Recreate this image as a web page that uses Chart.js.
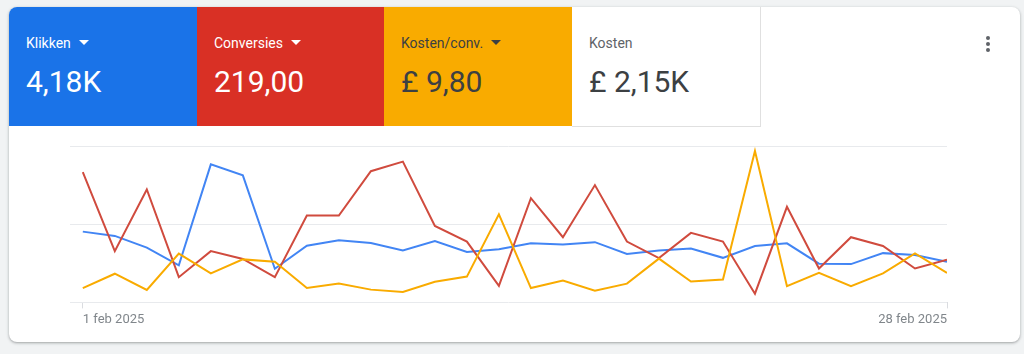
<!DOCTYPE html>
<html>
<head>
<meta charset="utf-8">
<script src="https://cdn.jsdelivr.net/npm/chart.js@4"></script>
<style>
    html, body { margin: 0; padding: 0; }
    body { width: 1024px; height: 354px; background: #f1f3f4; font-family: Roboto, sans-serif; position: relative; overflow: hidden; }
    .card { position: absolute; left: 9px; top: 7px; width: 1011px; height: 335px; background: #fff; border-radius: 8px; box-shadow: 0 1px 2px rgba(60,64,67,0.3), 0 1px 3px 1px rgba(60,64,67,0.12); overflow: hidden; }
    .tile { position: absolute; top: 0; height: 119px; width: 188px; }
    .tile .lbl { position: absolute; left: 17px; top: 28px; font-size: 14px; line-height: 16px; white-space: nowrap; }
    .tile .val { position: absolute; left: 17px; top: 57px; font-size: 30px; line-height: 36px; white-space: nowrap; }
    .arrow { display: inline-block; width: 0; height: 0; border-left: 5px solid transparent; border-right: 5px solid transparent; border-top: 5px solid currentColor; margin-left: 8px; vertical-align: 3px; }
    .kebab { position: absolute; left: 977px; top: 29px; width: 4px; }
    .kebab span { display: block; width: 4px; height: 4px; border-radius: 2px; background: #5f6368; margin-bottom: 2px; }
    #wrap { position: absolute; left: 61px; top: 135px; width: 881px; height: 190px; }
</style>
</head>
<body>
<div class="card">
    <div class="tile" style="left:0;background:#1a73e8;color:#fff;"><div class="lbl">Klikken<span class="arrow"></span></div><div class="val">4,18K</div></div>
    <div class="tile" style="left:188px;background:#d93025;color:#fff;"><div class="lbl">Conversies<span class="arrow"></span></div><div class="val">219,00</div></div>
    <div class="tile" style="left:375px;background:#f9ab00;color:#3c4043;"><div class="lbl">Kosten/conv.<span class="arrow"></span></div><div class="val">£ 9,80</div></div>
    <div class="tile" style="left:563px;background:#fff;color:#3c4043;border-right:1px solid #e0e0e0;border-bottom:1px solid #e0e0e0;"><div class="lbl" style="color:#5f6368;">Kosten</div><div class="val">£ 2,15K</div></div>
    <div class="kebab"><span></span><span></span><span></span></div>
    <div id="wrap"><canvas id="grafico"></canvas></div>
</div>
<script>
const dagen = ['1 feb 2025','2 feb 2025','3 feb 2025','4 feb 2025','5 feb 2025','6 feb 2025','7 feb 2025',
    '8 feb 2025','9 feb 2025','10 feb 2025','11 feb 2025','12 feb 2025','13 feb 2025','14 feb 2025',
    '15 feb 2025','16 feb 2025','17 feb 2025','18 feb 2025','19 feb 2025','20 feb 2025','21 feb 2025',
    '22 feb 2025','23 feb 2025','24 feb 2025','25 feb 2025','26 feb 2025','27 feb 2025','28 feb 2025'];

const klikken = [181, 170, 140, 95, 353, 325, 86, 145, 159, 152, 133, 157, 129, 136,
    151, 148, 154, 124, 133, 138, 114, 144, 151, 99, 98, 126, 121, 104];

const conversies = [15.0, 5.9, 13.0, 2.9, 5.9, 5.0, 2.9, 10.0, 10.0, 15.1, 16.2, 8.8, 7.0, 1.9,
    12.0, 7.5, 13.5, 7.0, 5.1, 8.0, 7.0, 1.0, 11.0, 3.9, 7.5, 6.5, 3.9, 4.9];

const kostenPerConv = [5.5, 11.0, 4.8, 18.7, 11.1, 16.5, 15.6, 5.5, 7.2, 4.9, 4.0, 7.9, 9.9, 33.8,
    5.5, 8.4, 4.5, 7.2, 16.8, 8.0, 8.8, 58.1, 6.2, 11.3, 6.2, 11.1, 18.8, 11.3];

const asMax = { klikken: 400, conversies: 18, kosten: 60 };

function punten(reeks) {
    return reeks.map((v, i) => ({ x: i, y: v }));
}

function lijn(label, reeks, kleur, as) {
    return {
        label: label,
        data: punten(reeks),
        borderColor: kleur,
        backgroundColor: kleur,
        borderWidth: 2,
        pointRadius: 0,
        tension: 0,
        yAxisID: as
    };
}

const ctx = document.getElementById('grafico').getContext('2d');

new Chart(ctx, {
    type: 'line',
    data: {
        datasets: [
            lijn('Kosten/conv.', kostenPerConv, '#f9ab00', 'y2'),
            lijn('Conversies', conversies, '#d04b3e', 'y1'),
            lijn('Klikken', klikken, '#4285f4', 'y')
        ]
    },
    options: {
        responsive: true,
        maintainAspectRatio: false,
        animation: false,
        layout: { padding: { top: 4, right: 2, left: 0, bottom: 0 } },
        plugins: { legend: { display: false }, tooltip: { enabled: false } },
        scales: {
            x: {
                type: 'linear',
                min: -0.4,
                max: dagen.length - 1,
                afterBuildTicks: function (axis) {
                    axis.ticks = [{ value: 0 }, { value: dagen.length - 1 }];
                },
                ticks: {
                    align: 'inner',
                    maxRotation: 0,
                    padding: 4,
                    color: '#80868b',
                    font: { family: 'Roboto', size: 13 },
                    callback: function (v) { return dagen[v]; }
                },
                grid: { drawOnChartArea: false, drawTicks: true, tickLength: 6, color: '#dadce0' },
                border: { display: false }
            },
            y: {
                min: 0,
                max: asMax.klikken,
                ticks: { display: false, stepSize: asMax.klikken / 2 },
                grid: { color: '#e8eaed', lineWidth: 1, drawTicks: false },
                border: { display: false }
            },
            y1: { display: false, min: 0, max: asMax.conversies },
            y2: { display: false, min: 0, max: asMax.kosten }
        }
    }
});
</script>
</body>
</html>
